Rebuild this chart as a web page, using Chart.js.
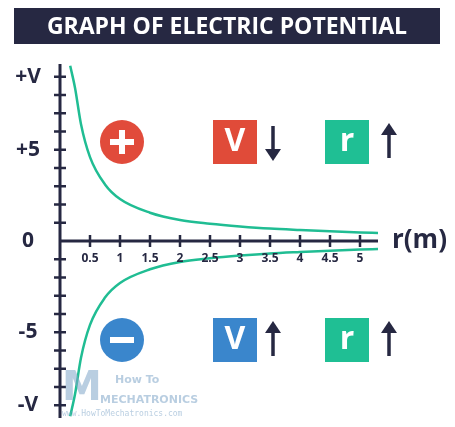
<!DOCTYPE html><html><head><meta charset="utf-8">
<script src="https://cdn.jsdelivr.net/npm/chart.js@4"></script>
<style>html,body{margin:0;padding:0;background:#fff}#w{width:455px;height:427px}</style></head><body>
<div id="w"><canvas id="c"></canvas></div>
<script>
const rValues=[0.17,0.25,0.35,0.5,0.75,1,1.5,2,2.5,3,3.5,4,4.5,5,5.3];
const positivePotential=[9.6,8.4,6.4,4.6,3.1,2.3,1.55,1.15,0.95,0.8,0.68,0.6,0.53,0.47,0.44];
const negativePotential=[-9.6,-8.4,-6.4,-4.6,-3.1,-2.3,-1.55,-1.15,-0.95,-0.8,-0.68,-0.6,-0.53,-0.47,-0.44];
const xTicks=[0.5,1,1.5,2,2.5,3,3.5,4,4.5,5];
const yLabels=[[9,'+V'],[5,'+5'],[0,'0'],[-5,'-5'],[-9,'-V']];
const navy='#262842',green='#20bd93';
const deco={id:'deco',afterDraw(ch){
 const c=ch.ctx,x=ch.scales.x,y=ch.scales.y;
 const x0=x.getPixelForValue(0),y0=y.getPixelForValue(0);
 c.save();
 c.fillStyle=navy;c.fillRect(14,8,426,36);
 c.fillStyle='#fff';c.font='bold 23px "Open Sans"';c.textAlign='center';c.textBaseline='middle';
 c.fillText('GRAPH OF ELECTRIC POTENTIAL',227,27);
 c.strokeStyle=navy;c.lineWidth=3;c.beginPath();
 c.moveTo(x0,ch.chartArea.top);c.lineTo(x0,ch.chartArea.bottom);
 c.moveTo(x0,y0);c.lineTo(x.getPixelForValue(5.3),y0);c.stroke();
 c.lineWidth=2.5;c.beginPath();
 for(const t of xTicks){const p=x.getPixelForValue(t);c.moveTo(p,y0-6);c.lineTo(p,y0+6);}
 for(let v=-9;v<=9;v++){if(!v)continue;const p=y.getPixelForValue(v);c.moveTo(x0-6,p);c.lineTo(x0+6,p);}
 c.stroke();
 c.fillStyle=navy;c.font='bold 12px "Open Sans"';c.textAlign='center';c.textBaseline='top';
 for(const t of xTicks)c.fillText(String(t),x.getPixelForValue(t),y0+12);
 c.font='bold 21px "Open Sans"';c.textAlign='center';c.textBaseline='middle';
 for(const [v,l] of yLabels)c.fillText(l,28,y.getPixelForValue(v));
 c.font='bold 26px "Open Sans"';c.textAlign='left';c.fillText('r(m)',392,y0);
 const circ=(cy,col,plus)=>{c.fillStyle=col;c.beginPath();c.arc(122,cy,22,0,7);c.fill();
  c.fillStyle='#fff';c.fillRect(110,cy-3,24,6);if(plus)c.fillRect(119,cy-12,6,24);};
 circ(142,'#e14b3b',true);circ(340,'#3a86cc',false);
 const box=(bx,by,col,t)=>{c.fillStyle=col;c.fillRect(bx,by,44,44);c.fillStyle='#fff';
  c.font='bold 32px "Open Sans"';c.textAlign='center';c.fillText(t,bx+22,by+22);};
 const arrow=(ax,ay,up)=>{c.strokeStyle=navy;c.fillStyle=navy;c.lineWidth=3.5;c.beginPath();
  c.moveTo(ax,ay-16);c.lineTo(ax,ay+16);c.stroke();c.beginPath();
  if(up){c.moveTo(ax-8,ay-7);c.lineTo(ax,ay-19);c.lineTo(ax+8,ay-7);}
  else{c.moveTo(ax-8,ay+7);c.lineTo(ax,ay+19);c.lineTo(ax+8,ay+7);}c.fill();};
 box(213,120,'#e04b39','V');arrow(273,142,false);
 box(325,120,'#1fbf94','r');arrow(389,142,true);
 box(213,318,'#3a86cc','V');arrow(273,340,true);
 box(325,318,'#1fbf94','r');arrow(389,340,true);
 c.globalAlpha=0.55;c.fillStyle='#7fa6c8';c.font='bold 40px "DejaVu Sans"';c.textAlign='left';
 c.fillText('M',62,390);c.font='bold 11px "DejaVu Sans"';c.fillText('How To',115,380);
 c.fillText('MECHATRONICS',100,400);c.font='8px "DejaVu Sans Mono"';c.fillText('www.HowToMechatronics.com',62,414);
 c.restore();}};
new Chart(document.getElementById('c'),{type:'scatter',
 data:{datasets:[
  {data:rValues.map((r,i)=>({x:r,y:positivePotential[i]})),showLine:true,borderColor:green,borderWidth:2.5,pointRadius:0,cubicInterpolationMode:'monotone'},
  {data:rValues.map((r,i)=>({x:r,y:negativePotential[i]})),showLine:true,borderColor:green,borderWidth:2.5,pointRadius:0,cubicInterpolationMode:'monotone'}]},
 options:{responsive:true,maintainAspectRatio:false,animation:false,
  layout:{padding:{left:60,right:77,top:64,bottom:9}},
  plugins:{legend:{display:false},tooltip:{enabled:false}},
  scales:{x:{type:'linear',min:0,max:5.3,display:false},y:{min:-9.7,max:9.7,display:false}}},
 plugins:[deco]});
</script></body></html>
